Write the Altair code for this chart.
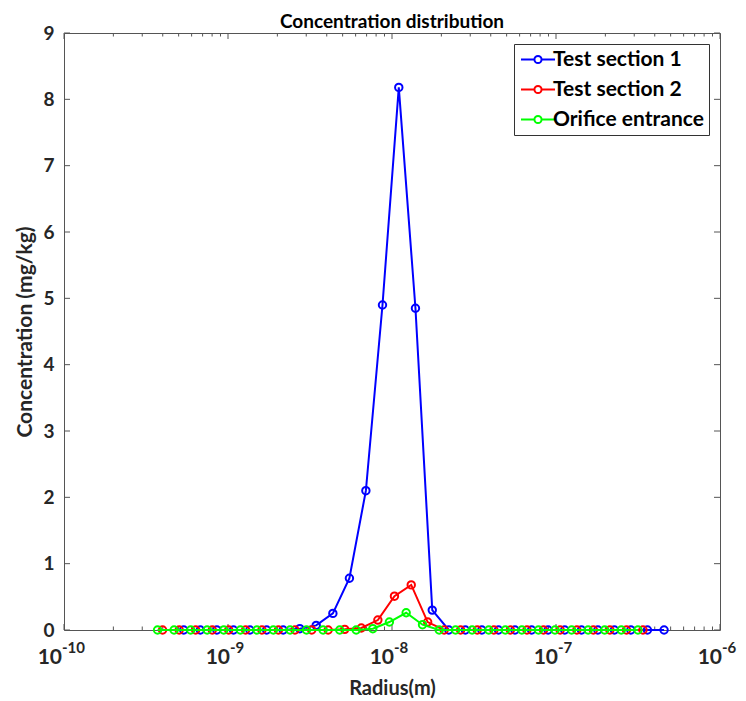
import altair as alt
import pandas as pd

FONT = "Lato"

series_names = ["Test section 1", "Test section 2", "Orifice entrance"]
series_colors = ["#0000FF", "#FF0000", "#00FF00"]

radius_ts1 = [5.37e-10, 6.78e-10, 8.55e-10, 1.08e-9, 1.36e-9, 1.72e-9, 2.17e-9, 2.74e-9,
              3.45e-9, 4.36e-9, 5.50e-9, 6.93e-9, 8.75e-9, 1.10e-8, 1.39e-8, 1.76e-8,
              2.22e-8, 2.80e-8, 3.53e-8, 4.46e-8, 5.62e-8, 7.10e-8, 8.95e-8, 1.13e-7,
              1.43e-7, 1.80e-7, 2.27e-7, 2.86e-7, 3.61e-7, 4.56e-7]
conc_ts1 = [0, 0, 0, 0, 0, 0, 0, 0.02, 0.07, 0.25, 0.78, 2.10, 4.90, 8.18, 4.85, 0.30,
            0, 0, 0, 0, 0, 0, 0, 0, 0, 0, 0, 0, 0, 0]

radius_ts2 = [3.99e-10, 5.04e-10, 6.35e-10, 8.02e-10, 1.01e-9, 1.28e-9, 1.61e-9, 2.03e-9,
              2.56e-9, 3.24e-9, 4.08e-9, 5.15e-9, 6.50e-9, 8.20e-9, 1.035e-8, 1.31e-8,
              1.65e-8, 2.08e-8, 2.62e-8, 3.31e-8, 4.18e-8, 5.27e-8, 6.65e-8, 8.39e-8,
              1.06e-7, 1.34e-7, 1.69e-7, 2.13e-7, 2.69e-7, 3.39e-7]
conc_ts2 = [0, 0, 0, 0, 0, 0, 0, 0, 0, 0, 0, 0.01, 0.03, 0.15, 0.51, 0.68, 0.12,
            0, 0, 0, 0, 0, 0, 0, 0, 0, 0, 0, 0, 0]

radius_orf = [3.72e-10, 4.69e-10, 5.92e-10, 7.46e-10, 9.42e-10, 1.19e-9, 1.50e-9, 1.89e-9,
              2.39e-9, 3.01e-9, 3.80e-9, 4.80e-9, 6.05e-9, 7.64e-9, 9.64e-9, 1.22e-8,
              1.535e-8, 1.94e-8, 2.44e-8, 3.08e-8, 3.89e-8, 4.91e-8, 6.19e-8, 7.82e-8,
              9.86e-8, 1.245e-7, 1.57e-7, 1.98e-7, 2.50e-7, 3.16e-7]
conc_orf = [0, 0, 0, 0, 0, 0, 0, 0, 0, 0, 0, 0, 0, 0.02, 0.12, 0.26, 0.08,
            0, 0, 0, 0, 0, 0, 0, 0, 0, 0, 0, 0, 0]

x_major = [1e-10, 1e-9, 1e-8, 1e-7, 1e-6]
x_exp = ["-10", "-9", "-8", "-7", "-6"]
x_minor = [m * 10.0 ** e for e in range(-10, -6) for m in range(2, 10)]
y_ticks = [0, 1, 2, 3, 4, 5, 6, 7, 8, 9]

W, H = 656, 597
AX = "#555555"

series_data = [
    pd.DataFrame({"r": radius_ts1, "c": conc_ts1, "series": series_names[0]}),
    pd.DataFrame({"r": radius_ts2, "c": conc_ts2, "series": series_names[1]}),
    pd.DataFrame({"r": radius_orf, "c": conc_orf, "series": series_names[2]}),
]

xscale = alt.Scale(type="log", domain=[1e-10, 1e-6], nice=False)
yscale = alt.Scale(domain=[0, 9], nice=False, zero=False)

X = alt.X("r:Q", scale=xscale,
          axis=alt.Axis(labels=False, ticks=False, domain=False, grid=False,
                        title="Radius(m)", titleFont=FONT, titleFontSize=20,
                        titleFontWeight="bold", titleColor="#262626",
                        titleY=58, titleBaseline="middle"))
Y = alt.Y("c:Q", scale=yscale,
          axis=alt.Axis(values=y_ticks, ticks=False, domain=False, grid=False,
                        labelFont=FONT, labelFontSize=19, labelFontWeight="bold",
                        labelColor="#262626", labelPadding=10,
                        title="Concentration (mg/kg)", titleFont=FONT, titleFontSize=21,
                        titleFontWeight="bold", titleColor="#262626",
                        titleX=-39, titleY=H / 2, titleAlign="center",
                        titleBaseline="middle"))

# legend glyph: line with a hollow circle, drawn to the right of the nominal symbol box
LEG_PATH = ("M-1,0L0.58,0M1.42,0L3,0"
            "M0.58,0A0.42,0.42 0 1,1 1.42,0A0.42,0.42 0 1,1 0.58,0")

legend = alt.Legend(title=None, orient="none", legendX=450, legendY=11,
                    direction="vertical", symbolType=LEG_PATH, symbolSize=289,
                    symbolStrokeWidth=2, symbolFillColor="transparent",
                    labelFont=FONT, labelFontSize=21, labelFontWeight="bold",
                    labelColor="#000000", labelOffset=13, labelLimit=400,
                    padding=5, rowPadding=8, strokeColor="#333333",
                    fillColor="white")

color = alt.Color("series:N", scale=alt.Scale(domain=series_names, range=series_colors),
                  legend=legend)

layers = []
for df in series_data:
    layers.append(
        alt.Chart(df).mark_line(
            strokeWidth=2,
            point=alt.OverlayMarkDef(filled=False, size=55, strokeWidth=2),
        ).encode(x=X, y=Y, color=color)
    )

# inward ticks (MATLAB box style)
major_df = pd.DataFrame({"r": x_major})
minor_df = pd.DataFrame({"r": x_minor})
ytick_df = pd.DataFrame({"c": y_ticks})

tick_layers = [
    alt.Chart(major_df).mark_rule(color=AX, strokeWidth=1).encode(
        x=X, y=alt.value(H), y2=alt.value(H - 6)),
    alt.Chart(major_df).mark_rule(color=AX, strokeWidth=1).encode(
        x=X, y=alt.value(0), y2=alt.value(6)),
    alt.Chart(minor_df).mark_rule(color=AX, strokeWidth=1).encode(
        x=X, y=alt.value(H), y2=alt.value(H - 3.5)),
    alt.Chart(minor_df).mark_rule(color=AX, strokeWidth=1).encode(
        x=X, y=alt.value(0), y2=alt.value(3.5)),
    alt.Chart(ytick_df).mark_rule(color=AX, strokeWidth=1).encode(
        y=Y, x=alt.value(0), x2=alt.value(6)),
    alt.Chart(ytick_df).mark_rule(color=AX, strokeWidth=1).encode(
        y=Y, x=alt.value(W), x2=alt.value(W - 6)),
]

# x tick labels as 10^exp
xlab_df = pd.DataFrame({"r": x_major, "exp": x_exp})
lab_base = alt.Chart(xlab_df)
label_layers = []
for cond, shift in [("length(datum.exp) > 2", -2), ("length(datum.exp) <= 2", 2)]:
    label_layers.append(
        lab_base.transform_filter(cond).mark_text(
            text="10", align="right", baseline="middle", dx=shift,
            font=FONT, fontSize=21, fontWeight="bold", color="#262626"
        ).encode(x=X, y=alt.value(H + 28))
    )
    label_layers.append(
        lab_base.transform_filter(cond).mark_text(
            align="left", baseline="middle", dx=shift,
            font=FONT, fontSize=15, fontWeight="bold", color="#262626"
        ).encode(x=X, y=alt.value(H + 18), text="exp:N")
    )

chart = alt.layer(*tick_layers, *layers, *label_layers).properties(
    width=W, height=H,
    title=alt.TitleParams("Concentration distribution", font=FONT, fontSize=19,
                          fontWeight="bold", color="#000000", offset=-8,
                          anchor="middle"),
    autosize=alt.AutoSizeParams(type="none"),
    padding={"left": 56, "top": 25, "right": 18, "bottom": 70},
).configure_view(stroke=AX, strokeWidth=1)

chart.save("out.html", embed_options={"renderer": "svg", "actions": False})
